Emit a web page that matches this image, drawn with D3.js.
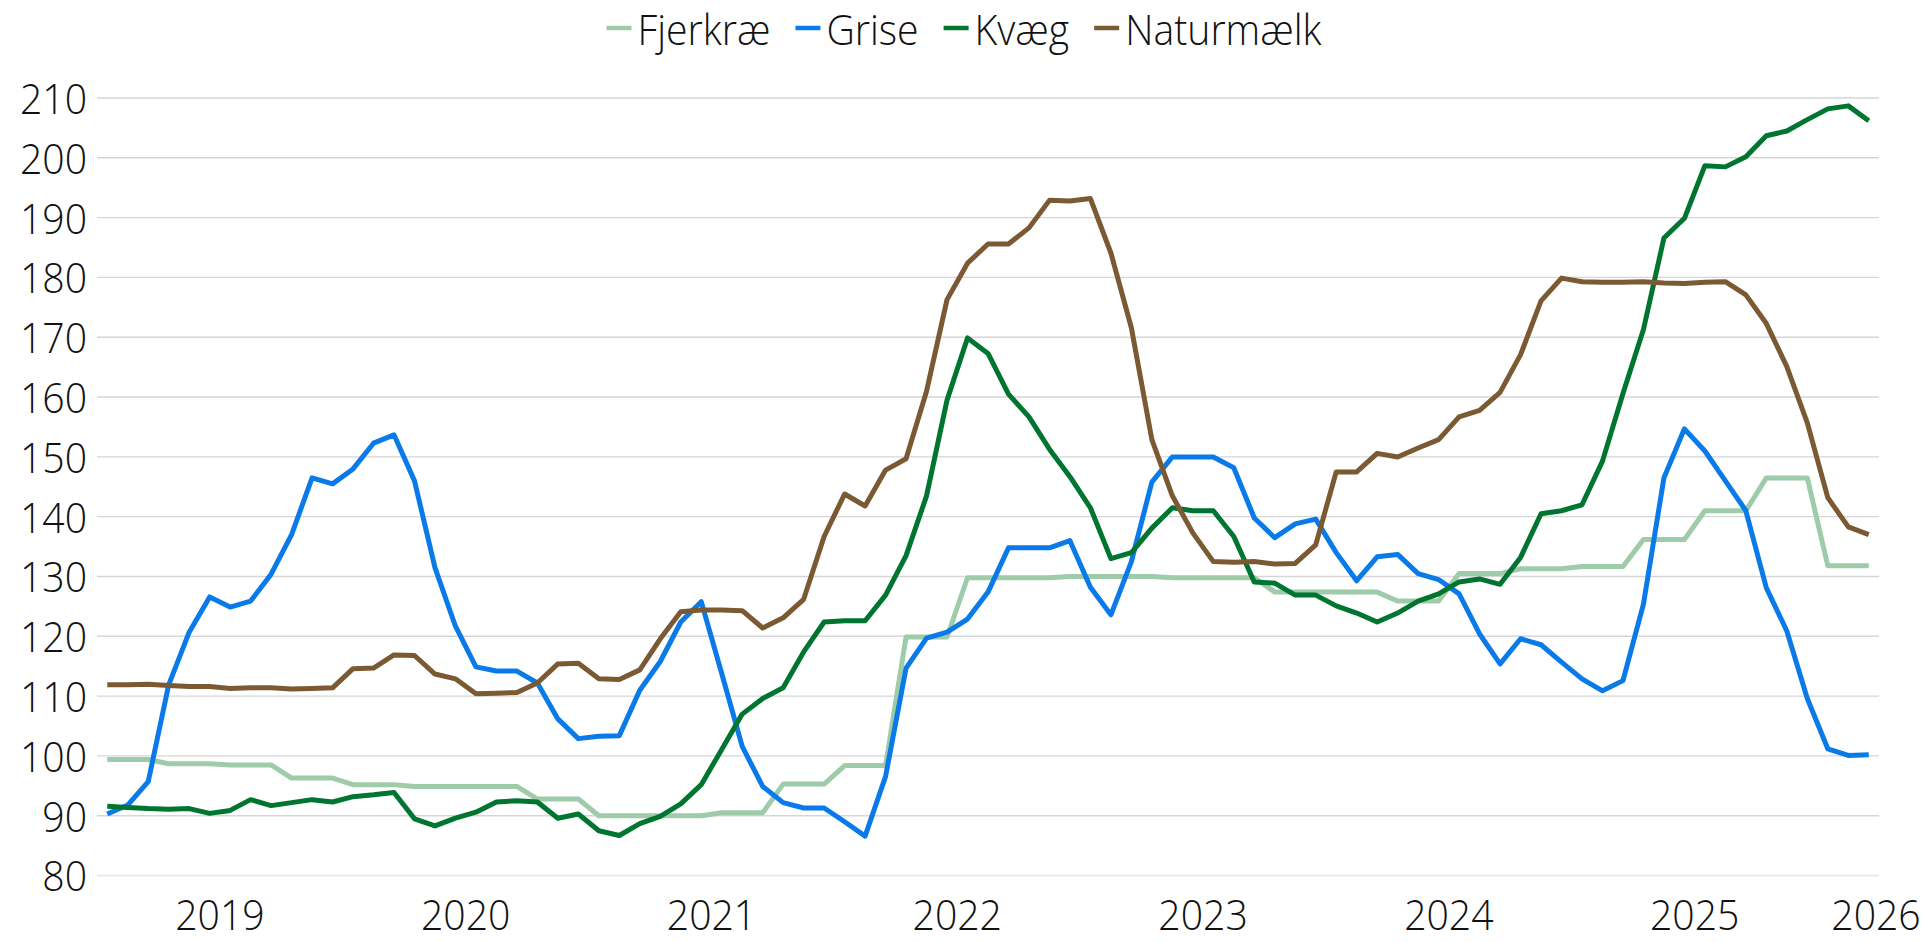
<!DOCTYPE html>
<html><head><meta charset="utf-8">
<script src="https://cdn.jsdelivr.net/npm/d3@7"></script>
<style>
html,body{margin:0;padding:0;background:#fff;}
svg{display:block;}
text{font-family:"Open Sans","Noto Sans",sans-serif;font-weight:300;fill:#111;}
</style></head><body>
<svg id="chart" width="1928" height="942"></svg>
<script>
// ---- DATA ----
const months = d3.timeMonth.range(new Date(2019,0,1), new Date(2026,3,1)); // Jan 2019 .. Mar 2026
const categories = months.map(d3.timeFormat("%Y-%m"));
const seriesNames = ["Fjerkræ","Grise","Kvæg","Naturmælk"];

const fjerkrae = [
  99.3, 99.3, 99.3, 98.6, 98.6, 98.6, 98.4, 98.4, 98.4, 96.2, 96.2, 96.2,
  95.1, 95.1, 95.1, 94.8, 94.8, 94.8, 94.8, 94.8, 94.8, 92.7, 92.7, 92.7,
  89.9, 89.9, 89.9, 89.9, 89.9, 89.9, 90.4, 90.4, 90.4, 95.2, 95.2, 95.2,
  98.3, 98.3, 98.3, 119.8, 119.8, 119.8, 129.7, 129.7, 129.7, 129.7, 129.7, 129.9,
  129.9, 129.9, 129.9, 129.9, 129.7, 129.7, 129.7, 129.7, 129.7, 127.3, 127.3, 127.3,
  127.3, 127.3, 127.3, 125.8, 125.8, 125.8, 130.4, 130.4, 130.4, 131.2, 131.2, 131.2,
  131.6, 131.6, 131.6, 136.1, 136.1, 136.1, 140.9, 140.9, 140.9, 146.4, 146.4, 146.4,
  131.7, 131.7, 131.7
];
const grise = [
  90.2, 91.7, 95.6, 111.8, 120.6, 126.5, 124.8, 125.8, 130.3, 136.9, 146.4, 145.4,
  147.9, 152.2, 153.6, 145.9, 131.4, 121.6, 114.8, 114.1, 114.1, 112.1, 106.1, 102.8,
  103.2, 103.3, 110.9, 115.7, 122.3, 125.7, 113.7, 101.5, 94.8, 92.1, 91.2, 91.2,
  88.9, 86.5, 96.5, 114.6, 119.6, 120.6, 122.8, 127.3, 134.7, 134.7, 134.7, 135.9,
  128.1, 123.5, 132.4, 145.7, 149.9, 149.9, 149.9, 148.1, 139.7, 136.4, 138.7, 139.5,
  133.9, 129.2, 133.2, 133.6, 130.4, 129.4, 127.0, 120.3, 115.3, 119.5, 118.5, 115.6,
  112.8, 110.8, 112.5, 125.3, 146.4, 154.6, 150.9, 145.9, 140.9, 128.0, 120.8, 109.5,
  101.1, 100.0, 100.1
];
const kvaeg = [
  91.5, 91.3, 91.1, 91.0, 91.1, 90.3, 90.8, 92.6, 91.6, 92.1, 92.6, 92.2,
  93.1, 93.4, 93.8, 89.4, 88.2, 89.5, 90.5, 92.2, 92.4, 92.2, 89.5, 90.2,
  87.4, 86.6, 88.6, 89.8, 91.9, 95.1, 101.0, 106.9, 109.5, 111.3, 117.3, 122.3,
  122.5, 122.5, 126.8, 133.4, 143.4, 159.4, 169.8, 167.2, 160.4, 156.6, 151.2, 146.6,
  141.4, 132.9, 133.9, 138.0, 141.4, 140.9, 140.9, 136.6, 129.0, 128.8, 126.8, 126.8,
  125.0, 123.8, 122.3, 123.8, 125.8, 127.0, 129.0, 129.5, 128.6, 133.1, 140.4, 140.9,
  141.9, 149.2, 160.5, 171.2, 186.5, 189.8, 198.6, 198.4, 200.1, 203.6, 204.4, 206.3,
  208.1, 208.6, 206.1
];
const naturmaelk = [
  111.8, 111.8, 111.9, 111.7, 111.5, 111.5, 111.2, 111.3, 111.3, 111.1, 111.2, 111.3,
  114.5, 114.6, 116.8, 116.7, 113.6, 112.8, 110.3, 110.4, 110.5, 112.1, 115.3, 115.4,
  112.8, 112.7, 114.3, 119.5, 124.0, 124.3, 124.3, 124.2, 121.3, 123.0, 126.1, 136.6,
  143.7, 141.7, 147.7, 149.6, 160.9, 176.2, 182.3, 185.5, 185.5, 188.2, 192.8, 192.7,
  193.1, 184.0, 171.5, 152.8, 143.4, 137.2, 132.4, 132.3, 132.4, 132.0, 132.1, 135.2,
  147.4, 147.4, 150.5, 149.9, 151.4, 152.8, 156.6, 157.7, 160.7, 167.0, 176.0, 179.8,
  179.2, 179.1, 179.1, 179.2, 179.0, 178.9, 179.1, 179.2, 177.0, 172.2, 165.0, 155.6,
  143.1, 138.2, 136.9
];
const yTicks = [80, 90, 100, 110, 120, 130, 140, 150, 160, 170, 180, 190, 200, 210];
const yearLabels = ["2019","2020","2021","2022","2023","2024","2025","2026"];
const colors = ["#9ecbaa", "#0a7ae8", "#007530", "#7b5a33"];

// ---- CHART ----
const svg = d3.select("#chart");
const plot = {left: 97, right: 1879, top: 97.5, bottom: 875};
const FS = 42;

// horizontal text compression to mimic the narrow original face
const probe = svg.append("text").attr("font-size", FS).text("Fjerkræ");
let f = 133 / probe.node().getComputedTextLength();
probe.remove();
f = Math.max(0.72, Math.min(1.05, f));

const x = d3.scalePoint().domain(categories).range([plot.left, plot.right]).padding(0.5);
const y = d3.scaleLinear().domain([80, 210]).range([plot.bottom, plot.top]);

// y axis + gridlines
const yAxis = d3.axisLeft(y).tickValues(yTicks).tickSize(-(plot.right - plot.left))
  .tickPadding(10).tickFormat(d3.format("d"));
const gy = svg.append("g").attr("transform", `translate(${plot.left},0)`).call(yAxis);
gy.select(".domain").remove();
gy.selectAll(".tick line").attr("stroke", d => d === 80 ? "#e4e4e4" : "#d6d6d6").attr("stroke-width", 1.4);
gy.selectAll(".tick text")
  .attr("font-size", FS).attr("font-family", null).attr("fill", "#111")
  .attr("x", -10 / f).attr("dy", "0.38em")
  .attr("transform", `scale(${f},1)`);

// x labels (centered on each year's months)
const step = x.step();
const gx = svg.append("g");
yearLabels.forEach((lab, k) => {
  const jan = categories[k * 12];
  let cx = (jan !== undefined ? x(jan) : x(categories[0]) + k * 12 * step) + 5.5 * step;
  cx = Math.min(cx, plot.right - 3);
  gx.append("text")
    .attr("x", cx / f).attr("y", 930)
    .attr("text-anchor", "middle").attr("font-size", FS)
    .attr("transform", `scale(${f},1)`)
    .text(lab);
});

// lines
const seriesData = [fjerkrae, grise, kvaeg, naturmaelk];
const line = d3.line().x((d, i) => x(categories[i])).y(d => y(d));
svg.append("g").selectAll("path").data(seriesData).join("path")
  .attr("d", line)
  .attr("fill", "none")
  .attr("stroke", (d, i) => colors[i])
  .attr("stroke-width", 5)
  .attr("stroke-linejoin", "round");

// legend
const lg = svg.append("g");
const items = seriesNames.map((name, i) => {
  const g = lg.append("g");
  g.append("line").attr("x1", 0).attr("x2", 25).attr("y1", 28).attr("y2", 28)
    .attr("stroke", colors[i]).attr("stroke-width", 4.5);
  const t = g.append("text").attr("font-size", FS).attr("y", 45)
    .attr("transform", `scale(${f},1)`).text(name);
  t.attr("x", 31 / f);
  const w = 31 + t.node().getComputedTextLength() * f;
  return {g, w};
});
const gap = 25;
const total = d3.sum(items, d => d.w) + gap * (items.length - 1);
let cur = 964 - total / 2;
items.forEach(it => { it.g.attr("transform", `translate(${cur},0)`); cur += it.w + gap; });
</script>
</body></html>
